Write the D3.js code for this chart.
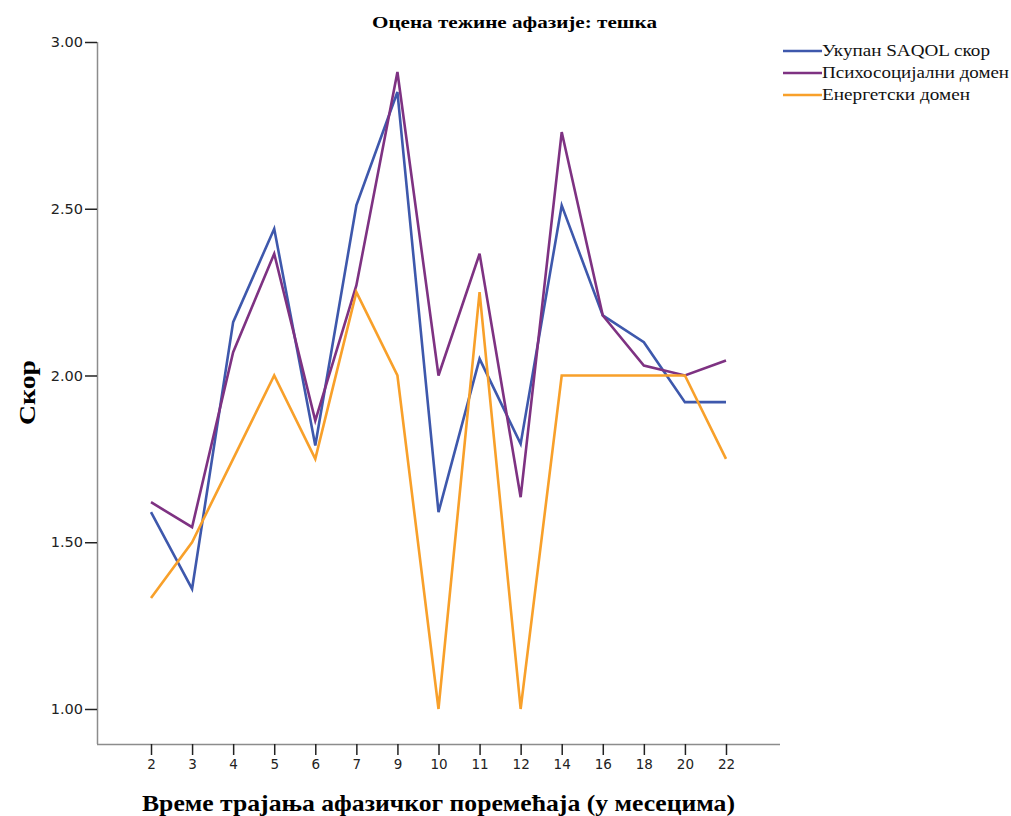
<!DOCTYPE html>
<html><head><meta charset="utf-8">
<script src="https://cdn.jsdelivr.net/npm/d3@7"></script>
<style>body{margin:0;background:#fff}</style>
</head><body>
<script>
const categories = ["2","3","4","5","6","7","9","10","11","12","14","16","18","20","22"];
const totalSaqol = [1.59,1.36,2.16,2.44,1.79,2.51,2.85,1.59,2.05,1.795,2.51,2.18,2.10,1.92,1.92];
const psychosocial = [1.62,1.545,2.07,2.365,1.865,2.27,2.91,2.0,2.365,1.635,2.73,2.18,2.03,2.0,2.045];
const energy = [1.333,1.5,1.75,2.0,1.75,2.25,2.0,1.0,2.25,1.0,2.0,2.0,2.0,2.0,1.75];
const yTicks = [1.0,1.5,2.0,2.5,3.0];
const seriesNames = ["Укупан SAQOL скор","Психосоцијални домен","Енергетски домен"];
const colors = ["#3e58ac","#7e3282","#f8a02a"];

const W=1011,H=816;
const svg=d3.select("body").append("svg").attr("width",W).attr("height",H);
const x=d3.scalePoint().domain(categories).range([97,780]).padding(1.315);
const y=d3.scaleLinear().domain([0.895,3.0]).range([744,42]);

const axisColor="#8c8c8c";
const gx=svg.append("g").attr("transform","translate(0,744)")
  .call(d3.axisBottom(x).tickSize(11).tickSizeOuter(0));
gx.select(".domain").attr("d","M97,0.5H780").attr("stroke",axisColor).attr("stroke-width",1.5);
gx.selectAll(".tick line").attr("stroke","#222").attr("stroke-width",1.5);
gx.selectAll(".tick text").attr("font-family","DejaVu Sans, sans-serif").attr("font-size",13.5).attr("fill","#222").attr("dy","0.85em");

const gy=svg.append("g").attr("transform","translate(97,0)")
  .call(d3.axisLeft(y).tickValues(yTicks).tickFormat(d3.format(".2f")).tickSize(12).tickSizeOuter(0));
gy.select(".domain").attr("d","M0.5,42V744").attr("stroke",axisColor).attr("stroke-width",1.5);
gy.selectAll(".tick line").attr("stroke","#222").attr("stroke-width",1.5);
gy.selectAll(".tick text").attr("font-family","DejaVu Sans, sans-serif").attr("font-size",14.5).attr("fill","#222").attr("x",-14);

const data=[totalSaqol,psychosocial,energy];
const line=d3.line().x((d,i)=>x(categories[i])).y(d=>y(d));
data.forEach((s,k)=>{
  svg.append("path").datum(s).attr("d",line).attr("fill","none")
    .attr("stroke",colors[k]).attr("stroke-width",2.6).attr("stroke-linejoin","miter");
});

svg.append("text").attr("x",372).attr("y",28)
  .attr("font-family","Liberation Serif, serif").attr("font-weight","bold").attr("font-size",17)
  .attr("textLength",285).attr("lengthAdjust","spacingAndGlyphs")
  .text("Оцена тежине афазије: тешка");

svg.append("text").attr("x",142).attr("y",811)
  .attr("font-family","Liberation Serif, serif").attr("font-weight","bold").attr("font-size",23)
  .attr("textLength",593).attr("lengthAdjust","spacingAndGlyphs")
  .text("Време трајања афазичког поремећаја (у месецима)");
svg.append("text").attr("transform","translate(35,425) rotate(-90)")
  .attr("font-family","Liberation Serif, serif").attr("font-weight","bold").attr("font-size",23)
  .attr("textLength",65).attr("lengthAdjust","spacingAndGlyphs")
  .text("Скор");

const legendWidths=[168,187,148];
const lg=svg.append("g");
seriesNames.forEach((n,k)=>{
  const yy=51+k*22;
  lg.append("line").attr("x1",783).attr("x2",822).attr("y1",yy).attr("y2",yy)
    .attr("stroke",colors[k]).attr("stroke-width",2.6);
  lg.append("text").attr("x",822).attr("y",yy+5).attr("font-family","Liberation Serif, serif")
    .attr("font-size",16).attr("fill","#111")
    .attr("textLength",legendWidths[k]).attr("lengthAdjust","spacingAndGlyphs").text(n);
});
</script>
</body></html>
